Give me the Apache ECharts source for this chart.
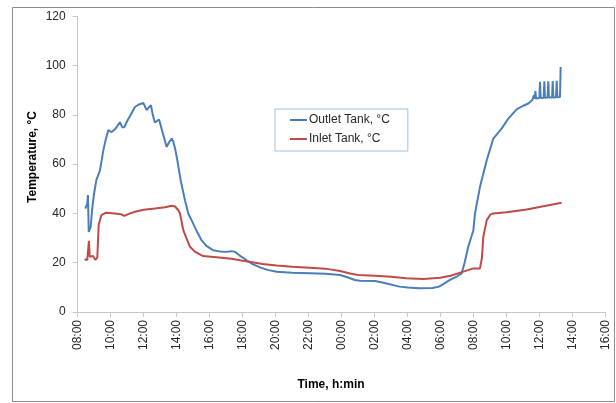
<!DOCTYPE html>
<html>
<head>
<meta charset="utf-8">
<script src="https://cdn.jsdelivr.net/npm/echarts@6/dist/echarts.min.js"></script>
<style>html,body{margin:0;padding:0;background:#fff}#c{width:616px;height:403px}</style>
</head>
<body>
<div id="c"></div>
<script>
// Hours elapsed since 08:00 on day 1
var xTickLabels = ["08:00","10:00","12:00","14:00","16:00","18:00","20:00","22:00","00:00","02:00","04:00","06:00","08:00","10:00","12:00","14:00","16:00"];
var yTicks = [0, 20, 40, 60, 80, 100, 120];

var outletTime = [0.46,0.58,0.62,0.67,0.79,0.87,0.99,1.13,1.35,1.55,1.70,1.85,2.06,2.30,2.56,2.70,2.83,3.00,3.17,3.47,3.70,3.98,4.10,4.18,4.30,4.44,4.55,4.68,4.93,5.10,5.39,5.55,5.70,5.80,5.90,6.00,6.24,6.50,6.70,6.90,7.20,7.50,7.80,8.20,8.60,9.00,9.33,9.53,9.80,10.24,10.60,11.05,11.50,12.06,13.00,14.08,15.00,15.90,16.30,16.80,17.10,18.02,18.60,19.50,20.00,20.70,21.50,21.90,22.20,22.56,23.00,23.27,23.45,23.67,23.98,24.08,24.38,24.79,25.19,25.45,25.70,26.10,26.60,27.00,27.31,27.55,27.65,27.70,27.74,27.78,27.98,28.02,28.06,28.24,28.28,28.32,28.48,28.52,28.56,28.75,28.79,28.83,28.99,29.03,29.07,29.23,29.27];
var outletTemp = [42,44,47.5,32.5,34.6,41.3,48,53.5,57.5,65.5,70,73.8,73,74.5,77,75,75,77.5,79.5,83.2,84.2,84.8,84,81.9,83,83.9,80,76.9,78.1,74,67,69,70.4,69,66.4,63,53.5,45.4,40,37.3,33,29.2,26.8,25.1,24.6,24.4,24.7,24.4,23,21,19.4,18.1,17.1,16.3,15.9,15.7,15.5,15,14.2,13,12.7,12.6,11.8,10.3,9.9,9.6,9.7,10.3,11.5,13,14.5,15.7,20,26.5,33.2,40,50.8,61.6,70.4,72.5,74.5,78.5,82.2,83.7,84.6,86,88,86.5,89.7,86.6,86.8,93.4,86.8,86.9,93.6,86.9,87,93.6,87,87,93.7,87,87.1,93.8,87.1,87.2,99.4];

var inletTime = [0.42,0.58,0.66,0.68,0.73,0.93,1.07,1.19,1.27,1.43,1.73,2.26,2.60,2.83,3.10,3.47,4.00,4.68,5.30,5.70,5.90,6.10,6.20,6.40,6.50,6.80,7.10,7.60,8.40,9.33,10.00,10.40,11.20,12.06,13.00,14.08,15.00,15.90,16.50,17.00,18.02,19.00,19.90,20.95,21.96,22.60,23.33,23.98,24.38,24.50,24.58,24.79,25.00,25.19,26.00,27.21,28.30,29.33];
var inletTemp = [21.4,21.1,20.4,28.9,22.4,22.7,21.1,22.2,35.3,39.3,40.3,40,39.7,39,39.8,40.7,41.5,42,42.5,43.1,42.8,41.3,40,33.2,31.5,26.5,24.5,22.7,22.2,21.6,20.8,20.4,19.5,18.9,18.4,18,17.6,16.6,15.6,15,14.7,14.3,13.7,13.4,13.9,14.7,16.3,17.7,17.7,22,30.5,37.3,39.5,40,40.5,41.6,43,44.3];

function zip(a, b) { return a.map(function (t, i) { return [t, b[i]]; }); }

var font = '"Liberation Sans", Arial, sans-serif';
var chart = echarts.init(document.getElementById('c'), null, {renderer: 'canvas'});
chart.setOption({
  animation: false,
  backgroundColor: '#ffffff',
  textStyle: {fontFamily: font},
  grid: {left: 77.7, right: 10.3, top: 16.3, bottom: 91, containLabel: false},
  xAxis: {
    type: 'value', min: 0, max: 32, interval: 2,
    axisLine: {show: true, lineStyle: {color: '#c8c8c8', width: 1}},
    axisTick: {show: true, length: 5, lineStyle: {color: '#c8c8c8'}},
    splitLine: {show: false},
    axisLabel: {
      rotate: 90, margin: 8, fontSize: 12, color: '#262626', fontFamily: font,
      formatter: function (v) { return xTickLabels[Math.round(v / 2)]; }
    }
  },
  yAxis: {
    type: 'value', min: yTicks[0], max: yTicks[yTicks.length - 1], interval: 20,
    axisLine: {show: true, lineStyle: {color: '#c8c8c8', width: 1}},
    axisTick: {show: true, length: 5, lineStyle: {color: '#c8c8c8'}},
    splitLine: {show: false},
    axisLabel: {margin: 12, fontSize: 12, color: '#262626', fontFamily: font}
  },
  legend: {
    orient: 'vertical', left: 275, top: 109,
    padding: [5, 18, 6, 15],
    itemGap: 7, itemWidth: 17, itemHeight: 2, icon: 'rect',
    borderColor: '#9fc0e0', borderWidth: 1,
    textStyle: {fontSize: 12, color: '#262626', fontFamily: font, padding: [0, 0, 0, -3]},
    data: ['Outlet Tank, °C', 'Inlet Tank, °C']
  },
  series: [
    {name: 'Outlet Tank, °C', type: 'line', showSymbol: false, symbol: 'none',
     lineStyle: {color: '#4a7ebb', width: 2}, itemStyle: {color: '#4a7ebb'},
     data: zip(outletTime, outletTemp)},
    {name: 'Inlet Tank, °C', type: 'line', showSymbol: false, symbol: 'none',
     lineStyle: {color: '#be4b48', width: 2}, itemStyle: {color: '#be4b48'},
     data: zip(inletTime, inletTemp)}
  ],
  graphic: [
    {type: 'rect', shape: {x: 12.5, y: 7.5, width: 602, height: 394}, silent: true,
     style: {fill: 'none', stroke: '#8c8c8c', lineWidth: 1}},
    {type: 'text', x: 331, y: 385, silent: true,
     style: {text: 'Time, h:min', font: 'bold 12px ' + font, fill: '#000', textAlign: 'center', textVerticalAlign: 'middle'}},
    {type: 'text', x: 33, y: 157, rotation: Math.PI / 2, silent: true,
     style: {text: 'Temperature, °C', font: 'bold 12px ' + font, fill: '#000', textAlign: 'center', textVerticalAlign: 'middle'}}
  ]
});
</script>
</body>
</html>
